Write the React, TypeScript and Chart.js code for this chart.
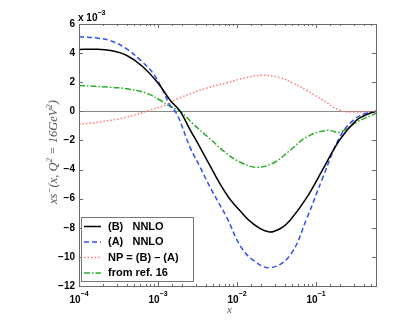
import React, { useEffect, useRef } from "react";
import { Chart, registerables } from "chart.js";

Chart.register(...registerables);

// ---- data ----
const xB = [1e-4, 1.58e-4, 2.51e-4, 3.98e-4, 6.31e-4, 1e-3, 1.41e-3, 1.91e-3, 2.51e-3, 3.39e-3, 4.57e-3, 6.1e-3, 7.94e-3, 0.011, 0.0158, 0.0251, 0.0355, 0.0468, 0.0759, 0.123, 0.2, 0.324, 0.447, 0.575];
const yB = [4.25, 4.27, 4.18, 3.85, 3.1, 1.95, 0.8, 0, -1.2, -2.46, -3.75, -4.99, -5.95, -6.85, -7.7, -8.28, -8.05, -7.5, -5.95, -3.95, -1.95, -0.62, -0.2, 0];

const xA = [1e-4, 1.58e-4, 2.51e-4, 3.98e-4, 6.31e-4, 8.71e-4, 1.15e-3, 1.41e-3, 1.74e-3, 2.54e-3, 3.39e-3, 4.57e-3, 7.41e-3, 0.011, 0.0158, 0.0263, 0.0468, 0.0759, 0.123, 0.2, 0.295, 0.417, 0.575];
const yA = [5.12, 5.05, 4.85, 4.3, 3.4, 2.6, 1.45, 0.45, -0.2, -2.46, -3.8, -5.22, -7.29, -9.24, -10.2, -10.74, -9.9, -7.4, -4.5, -1.77, -0.62, -0.15, 0];

const xNP = [1e-4, 1.58e-4, 2.51e-4, 3.98e-4, 6.31e-4, 7.94e-4, 1.26e-3, 1.74e-3, 4.17e-3, 7.94e-3, 0.0126, 0.0214, 0.0355, 0.0501, 0.0759, 0.123, 0.2, 0.316, 0.447, 0.575];
const yNP = [-0.88, -0.78, -0.62, -0.4, -0.1, 0.08, 0.45, 0.85, 1.6, 2.0, 2.3, 2.48, 2.3, 1.95, 1.45, 0.76, 0.07, -0.05, -0.02, 0];

const xRef = [1e-4, 1.58e-4, 2.51e-4, 4.07e-4, 7.24e-4, 1.07e-3, 1.41e-3, 1.91e-3, 2.75e-3, 4.57e-3, 7.41e-3, 0.011, 0.0178, 0.0288, 0.0468, 0.0759, 0.136, 0.2, 0.327, 0.575];
const yRef = [1.77, 1.72, 1.65, 1.55, 1.24, 0.76, 0.35, 0, -0.84, -1.9, -2.9, -3.5, -3.84, -3.55, -2.69, -1.77, -1.31, -1.43, -0.74, -0.15];

const seriesLabels = ["(B)   NNLO", "(A)   NNLO", "NP = (B) \u2013 (A)", "from ref. 16"];
const xTickValues = [1e-4, 1e-3, 1e-2, 1e-1];
const xTickExponents = ["\u22124", "\u22123", "\u22122", "\u22121"];
const yScaleExponent = "\u22123";

const toPts = (xs: number[], ys: number[]) => xs.map((x, i) => ({ x, y: ys[i] }));

const AXIS_COLOR = "#6a6a6a";

const decorPlugin = {
  id: "decor",
  beforeDatasetsDraw(chart: any) {
    const { ctx, chartArea: a, scales } = chart;
    const y0 = scales.y.getPixelForValue(0);
    ctx.save();
    ctx.strokeStyle = "#8a8a8a";
    ctx.lineWidth = 1;
    ctx.beginPath();
    ctx.moveTo(a.left, Math.round(y0) + 0.5);
    ctx.lineTo(a.right, Math.round(y0) + 0.5);
    ctx.stroke();
    ctx.restore();
  },
  afterDraw(chart: any) {
    const { ctx, chartArea: a, scales } = chart;
    const xs = scales.x;
    const ys = scales.y;
    ctx.save();
    // axes box
    ctx.strokeStyle = AXIS_COLOR;
    ctx.lineWidth = 1;
    ctx.strokeRect(Math.round(a.left) + 0.5, Math.round(a.top) + 0.5, Math.round(a.right - a.left), Math.round(a.bottom - a.top));
    // y ticks (inside, both sides)
    ctx.beginPath();
    ys.ticks.forEach((t: any) => {
      const py = Math.round(ys.getPixelForValue(t.value)) + 0.5;
      ctx.moveTo(a.left, py);
      ctx.lineTo(a.left + 4, py);
      ctx.moveTo(a.right, py);
      ctx.lineTo(a.right - 4, py);
    });
    // x ticks (log, inside, top & bottom)
    xs.ticks.forEach((t: any) => {
      const v = t.value;
      if (v < xs.min || v > xs.max) return;
      const lg = Math.log10(v);
      const major = Math.abs(lg - Math.round(lg)) < 1e-6;
      const len = major ? 4 : 2;
      const px = Math.round(xs.getPixelForValue(v)) + 0.5;
      ctx.moveTo(px, a.bottom);
      ctx.lineTo(px, a.bottom - len);
      ctx.moveTo(px, a.top);
      ctx.lineTo(px, a.top + len);
    });
    ctx.stroke();

    // x tick labels 10^n
    ctx.fillStyle = "#000";
    ctx.textBaseline = "alphabetic";
    xTickValues.forEach((v, i) => {
      const px = xs.getPixelForValue(v);
      ctx.font = "bold 10px 'Liberation Sans', Arial, sans-serif";
      const wb = ctx.measureText("10").width;
      ctx.font = "bold 7px 'Liberation Sans', Arial, sans-serif";
      const we = ctx.measureText(xTickExponents[i]).width;
      const start = px - (wb + we) / 2;
      ctx.font = "bold 10px 'Liberation Sans', Arial, sans-serif";
      ctx.textAlign = "left";
      ctx.fillText("10", start, a.bottom + 17);
      ctx.font = "bold 7px 'Liberation Sans', Arial, sans-serif";
      ctx.fillText(xTickExponents[i], start + wb, a.bottom + 10);
    });

    // scale factor "x 10^-3"
    ctx.font = "bold 10px 'Liberation Sans', Arial, sans-serif";
    ctx.textAlign = "left";
    ctx.fillText("x 10", a.left - 1, a.top - 3);
    const w10 = ctx.measureText("x 10").width;
    ctx.font = "bold 7px 'Liberation Sans', Arial, sans-serif";
    ctx.fillText(yScaleExponent, a.left - 1 + w10, a.top - 9);

    // x axis title
    ctx.fillStyle = "#555";
    ctx.font = "italic 11px 'Liberation Serif', 'DejaVu Serif', serif";
    ctx.textAlign = "center";
    ctx.fillText("x", (a.left + a.right) / 2 + 2, a.bottom + 27);

    // y axis title (rotated)
    const parts: [string, boolean][] = [
      ["xs", false], ["\u2212", true], ["(x, Q", false], ["2", true], [" = 16GeV", false], ["2", true], [")", false],
    ];
    const mainF = "italic 12.5px 'Liberation Serif', 'DejaVu Serif', serif";
    const supF = "italic 9px 'Liberation Serif', 'DejaVu Serif', serif";
    let total = 0;
    parts.forEach(([s, sup]) => {
      ctx.font = sup ? supF : mainF;
      total += ctx.measureText(s).width;
    });
    ctx.translate(57, 152);
    ctx.rotate(-Math.PI / 2);
    ctx.textAlign = "left";
    let cx = -total / 2;
    parts.forEach(([s, sup]) => {
      ctx.font = sup ? supF : mainF;
      ctx.fillText(s, cx, sup ? -5.5 : 0);
      cx += ctx.measureText(s).width;
    });
    ctx.setTransform(1, 0, 0, 1, 0, 0);

    // legend
    const lx = 81, ly = 217, lw = 112, lh = 64;
    ctx.fillStyle = "#fff";
    ctx.fillRect(lx, ly, lw, lh);
    ctx.strokeStyle = "#777";
    ctx.lineWidth = 1;
    ctx.strokeRect(lx + 0.5, ly + 0.5, lw, lh);
    chart.data.datasets.forEach((ds: any, i: number) => {
      const ry = ly + 9.5 + i * 15.5;
      ctx.strokeStyle = ds.borderColor;
      ctx.lineWidth = ds.borderWidth;
      ctx.setLineDash(ds.borderDash || []);
      ctx.beginPath();
      ctx.moveTo(lx + 3, ry);
      ctx.lineTo(lx + 20, ry);
      ctx.stroke();
      ctx.setLineDash([]);
      ctx.fillStyle = "#000";
      ctx.font = "bold 11px 'Liberation Sans', Arial, sans-serif";
      ctx.textAlign = "left";
      ctx.textBaseline = "middle";
      ctx.fillText(ds.label, lx + 27, ry);
    });
    ctx.restore();
  },
};

export default function App() {
  const ref = useRef<HTMLCanvasElement | null>(null);
  useEffect(() => {
    if (!ref.current) return;
    const mk = (label: string, xs: number[], ys: number[], color: string, dash: number[]) => ({
      label,
      data: toPts(xs, ys),
      borderColor: color,
      backgroundColor: color,
      borderWidth: 1.5,
      borderDash: dash,
      pointRadius: 0,
      fill: false,
      tension: 0.4,
    });
    const chart = new Chart(ref.current, {
      type: "line",
      data: {
        datasets: [
          mk(seriesLabels[0], xB, yB, "#000000", []),
          mk(seriesLabels[1], xA, yA, "#3050f0", [5, 3]),
          mk(seriesLabels[2], xNP, yNP, "#ff7a7a", [1.5, 2]),
          mk(seriesLabels[3], xRef, yRef, "#2aac2a", [6, 2, 1.5, 2]),
        ],
      },
      options: {
        animation: false,
        responsive: false,
        events: [],
        layout: { padding: { top: 24, right: 39, left: 0, bottom: 0 } },
        plugins: { legend: { display: false }, tooltip: { enabled: false }, title: { display: false } },
        scales: {
          x: {
            type: "logarithmic",
            min: 1e-4,
            max: 0.575,
            grid: { display: false, drawTicks: false },
            border: { display: false },
            ticks: { display: false },
            afterFit: (s: any) => { s.height = 36; },
          },
          y: {
            type: "linear",
            min: -12,
            max: 6,
            grid: { display: false, drawTicks: false },
            border: { display: false },
            ticks: {
              stepSize: 2,
              padding: 4,
              color: "#000",
              font: { family: "'Liberation Sans', Arial, sans-serif", size: 10, weight: "bold" },
              callback: (v: any) => (Number(v) < 0 ? "\u2212" + Math.abs(Number(v)) : String(v)),
            },
            afterFit: (s: any) => { s.width = 79; },
          },
        },
      },
      plugins: [decorPlugin],
    });
    return () => chart.destroy();
  }, []);
  return (
    <div style={{ position: "fixed", left: 0, top: 0, width: 415, height: 322, background: "#fff" }}>
      <canvas ref={ref} width={415} height={322} />
    </div>
  );
}
